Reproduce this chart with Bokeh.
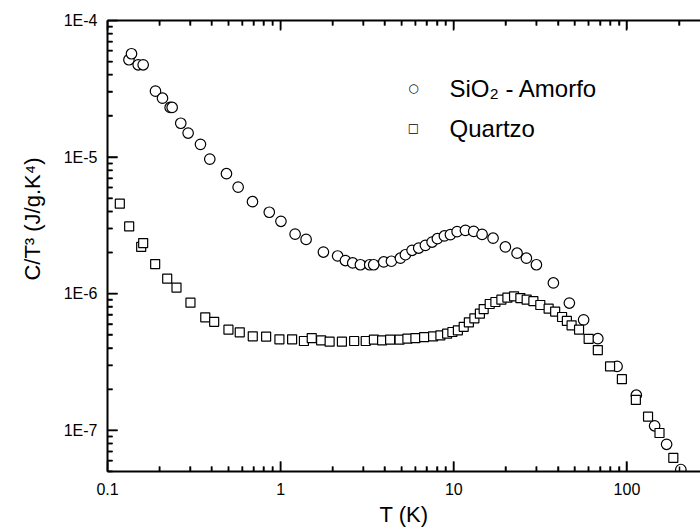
from bokeh.plotting import figure
from bokeh.models import FixedTicker, LogAxis, Title, Label
from bokeh.embed import file_html
from bokeh.resources import INLINE
import math

# SiO2 - Amorfo : T (K), C/T^3 (J/g.K^4)
amorfo_T = [0.133, 0.1376, 0.1504, 0.1607, 0.1893, 0.2078, 0.2301, 0.2363, 0.2649, 0.2922,
            0.3443, 0.3897, 0.4865, 0.5682, 0.6876, 0.8596, 1.004, 1.212, 1.403, 1.766,
            2.134, 2.366, 2.608, 2.888, 3.269, 3.448, 3.938, 4.363, 4.917, 5.255,
            5.743, 6.272, 6.855, 7.494, 8.04, 8.826, 9.56, 10.45, 11.67, 13.03,
            14.57, 16.86, 19.86, 23.2, 26.26, 30.0, 37.6, 46.5, 56.2, 67.9,
            87.7, 113.3, 144.5, 169.5, 204.8]
amorfo_C = [5.16e-5, 5.71e-5, 4.74e-5, 4.74e-5, 3.04e-5, 2.70e-5, 2.31e-5, 2.31e-5, 1.77e-5, 1.50e-5,
            1.24e-5, 9.67e-6, 7.56e-6, 6.03e-6, 4.72e-6, 3.95e-6, 3.39e-6, 2.73e-6, 2.50e-6, 2.02e-6,
            1.89e-6, 1.75e-6, 1.68e-6, 1.63e-6, 1.63e-6, 1.63e-6, 1.71e-6, 1.73e-6, 1.82e-6, 1.93e-6,
            2.08e-6, 2.16e-6, 2.26e-6, 2.39e-6, 2.53e-6, 2.65e-6, 2.71e-6, 2.85e-6, 2.91e-6, 2.86e-6,
            2.72e-6, 2.55e-6, 2.20e-6, 1.98e-6, 1.82e-6, 1.63e-6, 1.20e-6, 8.55e-7, 6.44e-7, 4.69e-7,
            2.94e-7, 1.81e-7, 1.08e-7, 7.91e-8, 5.17e-8]

# Quartzo
quartzo_T = [0.1178, 0.1334, 0.1565, 0.1607, 0.1885, 0.2212, 0.2503, 0.3014, 0.367, 0.4131,
             0.4995, 0.5805, 0.6902, 0.8245, 0.984, 1.165, 1.363, 1.512, 1.713, 1.918,
             2.259, 2.658, 3.10, 3.457, 3.855, 4.288, 4.865, 5.396, 6.002, 6.74,
             7.595, 8.37, 9.148, 9.815, 10.56, 11.41, 12.22, 13.15, 14.15, 14.88,
             16.12, 17.39, 18.83, 20.4, 22.29, 24.24, 26.36, 28.82, 31.6, 35.3,
             38.5, 42.2, 45.0, 47.9, 52.9, 60.1, 67.9, 79.9, 93.5, 112.6,
             132.4, 154.2, 185.3]
quartzo_C = [4.56e-6, 3.11e-6, 2.20e-6, 2.35e-6, 1.65e-6, 1.29e-6, 1.11e-6, 8.61e-7, 6.72e-7, 6.23e-7,
             5.46e-7, 5.22e-7, 4.88e-7, 4.86e-7, 4.64e-7, 4.64e-7, 4.51e-7, 4.74e-7, 4.56e-7, 4.46e-7,
             4.46e-7, 4.51e-7, 4.51e-7, 4.62e-7, 4.56e-7, 4.62e-7, 4.62e-7, 4.69e-7, 4.74e-7, 4.82e-7,
             4.88e-7, 4.96e-7, 5.10e-7, 5.25e-7, 5.40e-7, 5.73e-7, 6.18e-7, 6.61e-7, 7.15e-7, 7.73e-7,
             8.41e-7, 8.70e-7, 9.05e-7, 9.36e-7, 9.57e-7, 9.30e-7, 9.05e-7, 8.83e-7, 8.27e-7, 7.78e-7,
             7.41e-7, 6.76e-7, 6.33e-7, 5.87e-7, 5.46e-7, 4.68e-7, 3.87e-7, 2.94e-7, 2.37e-7, 1.67e-7,
             1.26e-7, 9.57e-8, 6.30e-8]

series_labels = ["SiO₂ - Amorfo", "Quartzo"]
x_ticks = [0.1, 1, 10, 100]
x_tick_labels = ["0.1", "1", "10", "100"]
y_ticks = [1e-7, 1e-6, 1e-5, 1e-4]
y_tick_labels = ["1E-7", "1E-6", "1E-5", "1E-4"]
x_minor = [k * 10.0 ** d for d in range(-1, 3) for k in range(2, 10)]
y_minor = [k * 10.0 ** d for d in range(-8, -4) for k in range(2, 10)]

FONT = "Liberation Sans"
X0, X1 = 0.1, 266
Y0, Y1 = 5e-8, 1e-4

p = figure(width=700, height=529, x_axis_type="log", y_axis_type="log",
           x_range=(X0, X1), y_range=(Y0, Y1),
           output_backend="svg", toolbar_location=None,
           min_border_left=107, min_border_right=0, min_border_top=20, min_border_bottom=57)
p.outline_line_color = None
p.xgrid.visible = False
p.ygrid.visible = False


def style_axis(ax, ticks, minor, labels):
    ax.ticker = FixedTicker(ticks=ticks, minor_ticks=minor)
    ax.major_label_overrides = {t: l for t, l in zip(ticks, labels)}
    ax.axis_line_width = 2
    ax.axis_line_color = "black"
    ax.major_tick_line_color = "black"
    ax.minor_tick_line_color = "black"
    ax.major_tick_line_width = 1.5
    ax.minor_tick_line_width = 1.5
    ax.major_tick_in = 10
    ax.major_tick_out = 0
    ax.minor_tick_in = 5
    ax.minor_tick_out = 0
    ax.major_label_text_font = FONT
    ax.major_label_text_font_size = "16px"
    ax.major_label_text_color = "black"


style_axis(p.xaxis[0], x_ticks, x_minor, x_tick_labels)
style_axis(p.yaxis[0], y_ticks, y_minor, y_tick_labels)
p.xaxis[0].major_label_standoff = 11
p.yaxis[0].major_label_standoff = 10
p.xaxis[0].axis_label = "T (K)"
p.xaxis[0].axis_label_text_font = FONT
p.xaxis[0].axis_label_text_font_size = "22px"
p.xaxis[0].axis_label_text_font_style = "normal"
p.xaxis[0].axis_label_text_color = "black"
p.xaxis[0].axis_label_standoff = 4

top = LogAxis()
style_axis(top, x_ticks, x_minor, ["", "", "", ""])
top.major_label_text_font_size = "0px"
top.major_label_standoff = 0
p.add_layout(top, "above")

# inward tick marks, drawn from the tick arrays just inside the frame edges
EPS = 1.002
TK = dict(line_color="black", line_width=1.5, length_units="screen")
p.ray(x=[X0 * EPS] * len(y_ticks), y=y_ticks, length=10, angle=0, **TK)
p.ray(x=[X0 * EPS] * len(y_minor), y=y_minor, length=5, angle=0, **TK)
p.ray(x=x_ticks, y=[Y0 * EPS] * len(x_ticks), length=10, angle=math.pi / 2, **TK)
p.ray(x=x_minor, y=[Y0 * EPS] * len(x_minor), length=5, angle=math.pi / 2, **TK)
p.ray(x=x_ticks, y=[Y1 / EPS] * len(x_ticks), length=9, angle=-math.pi / 2, **TK)
p.ray(x=x_minor, y=[Y1 / EPS] * len(x_minor), length=5, angle=-math.pi / 2, **TK)

ytitle = Title(text="C/T³ (J/g.K⁴)", align="right", offset=137, standoff=30,
               vertical_align="middle",
               text_font=FONT, text_font_size="22px", text_font_style="normal",
               text_color="black")
p.add_layout(ytitle, "left")

p.scatter(amorfo_T, amorfo_C, marker="circle", size=10.5, line_color="black",
          fill_color="white", line_width=1.2)
p.scatter(quartzo_T, quartzo_C, marker="square", size=9, line_color="black",
          fill_color="white", line_width=1.2)

# legend, drawn as text annotations (key symbol + label per row)
LEG_KEY_X, LEG_TEXT_X = 5.845, 9.448
LEG_ROW_Y = [3.187e-5, 1.627e-5]
for sym, lab, yy in zip(["○", "□"], series_labels, LEG_ROW_Y):
    p.add_layout(Label(x=LEG_KEY_X, y=yy, text=sym, text_font="DejaVu Sans",
                       text_font_size="12px", text_align="center",
                       text_baseline="middle", text_color="black"))
    p.add_layout(Label(x=LEG_TEXT_X, y=yy, text=lab, text_font=FONT,
                       text_font_size="24px", text_align="left",
                       text_baseline="middle", text_color="black"))

open("out.html", "w").write(file_html(p, INLINE))
